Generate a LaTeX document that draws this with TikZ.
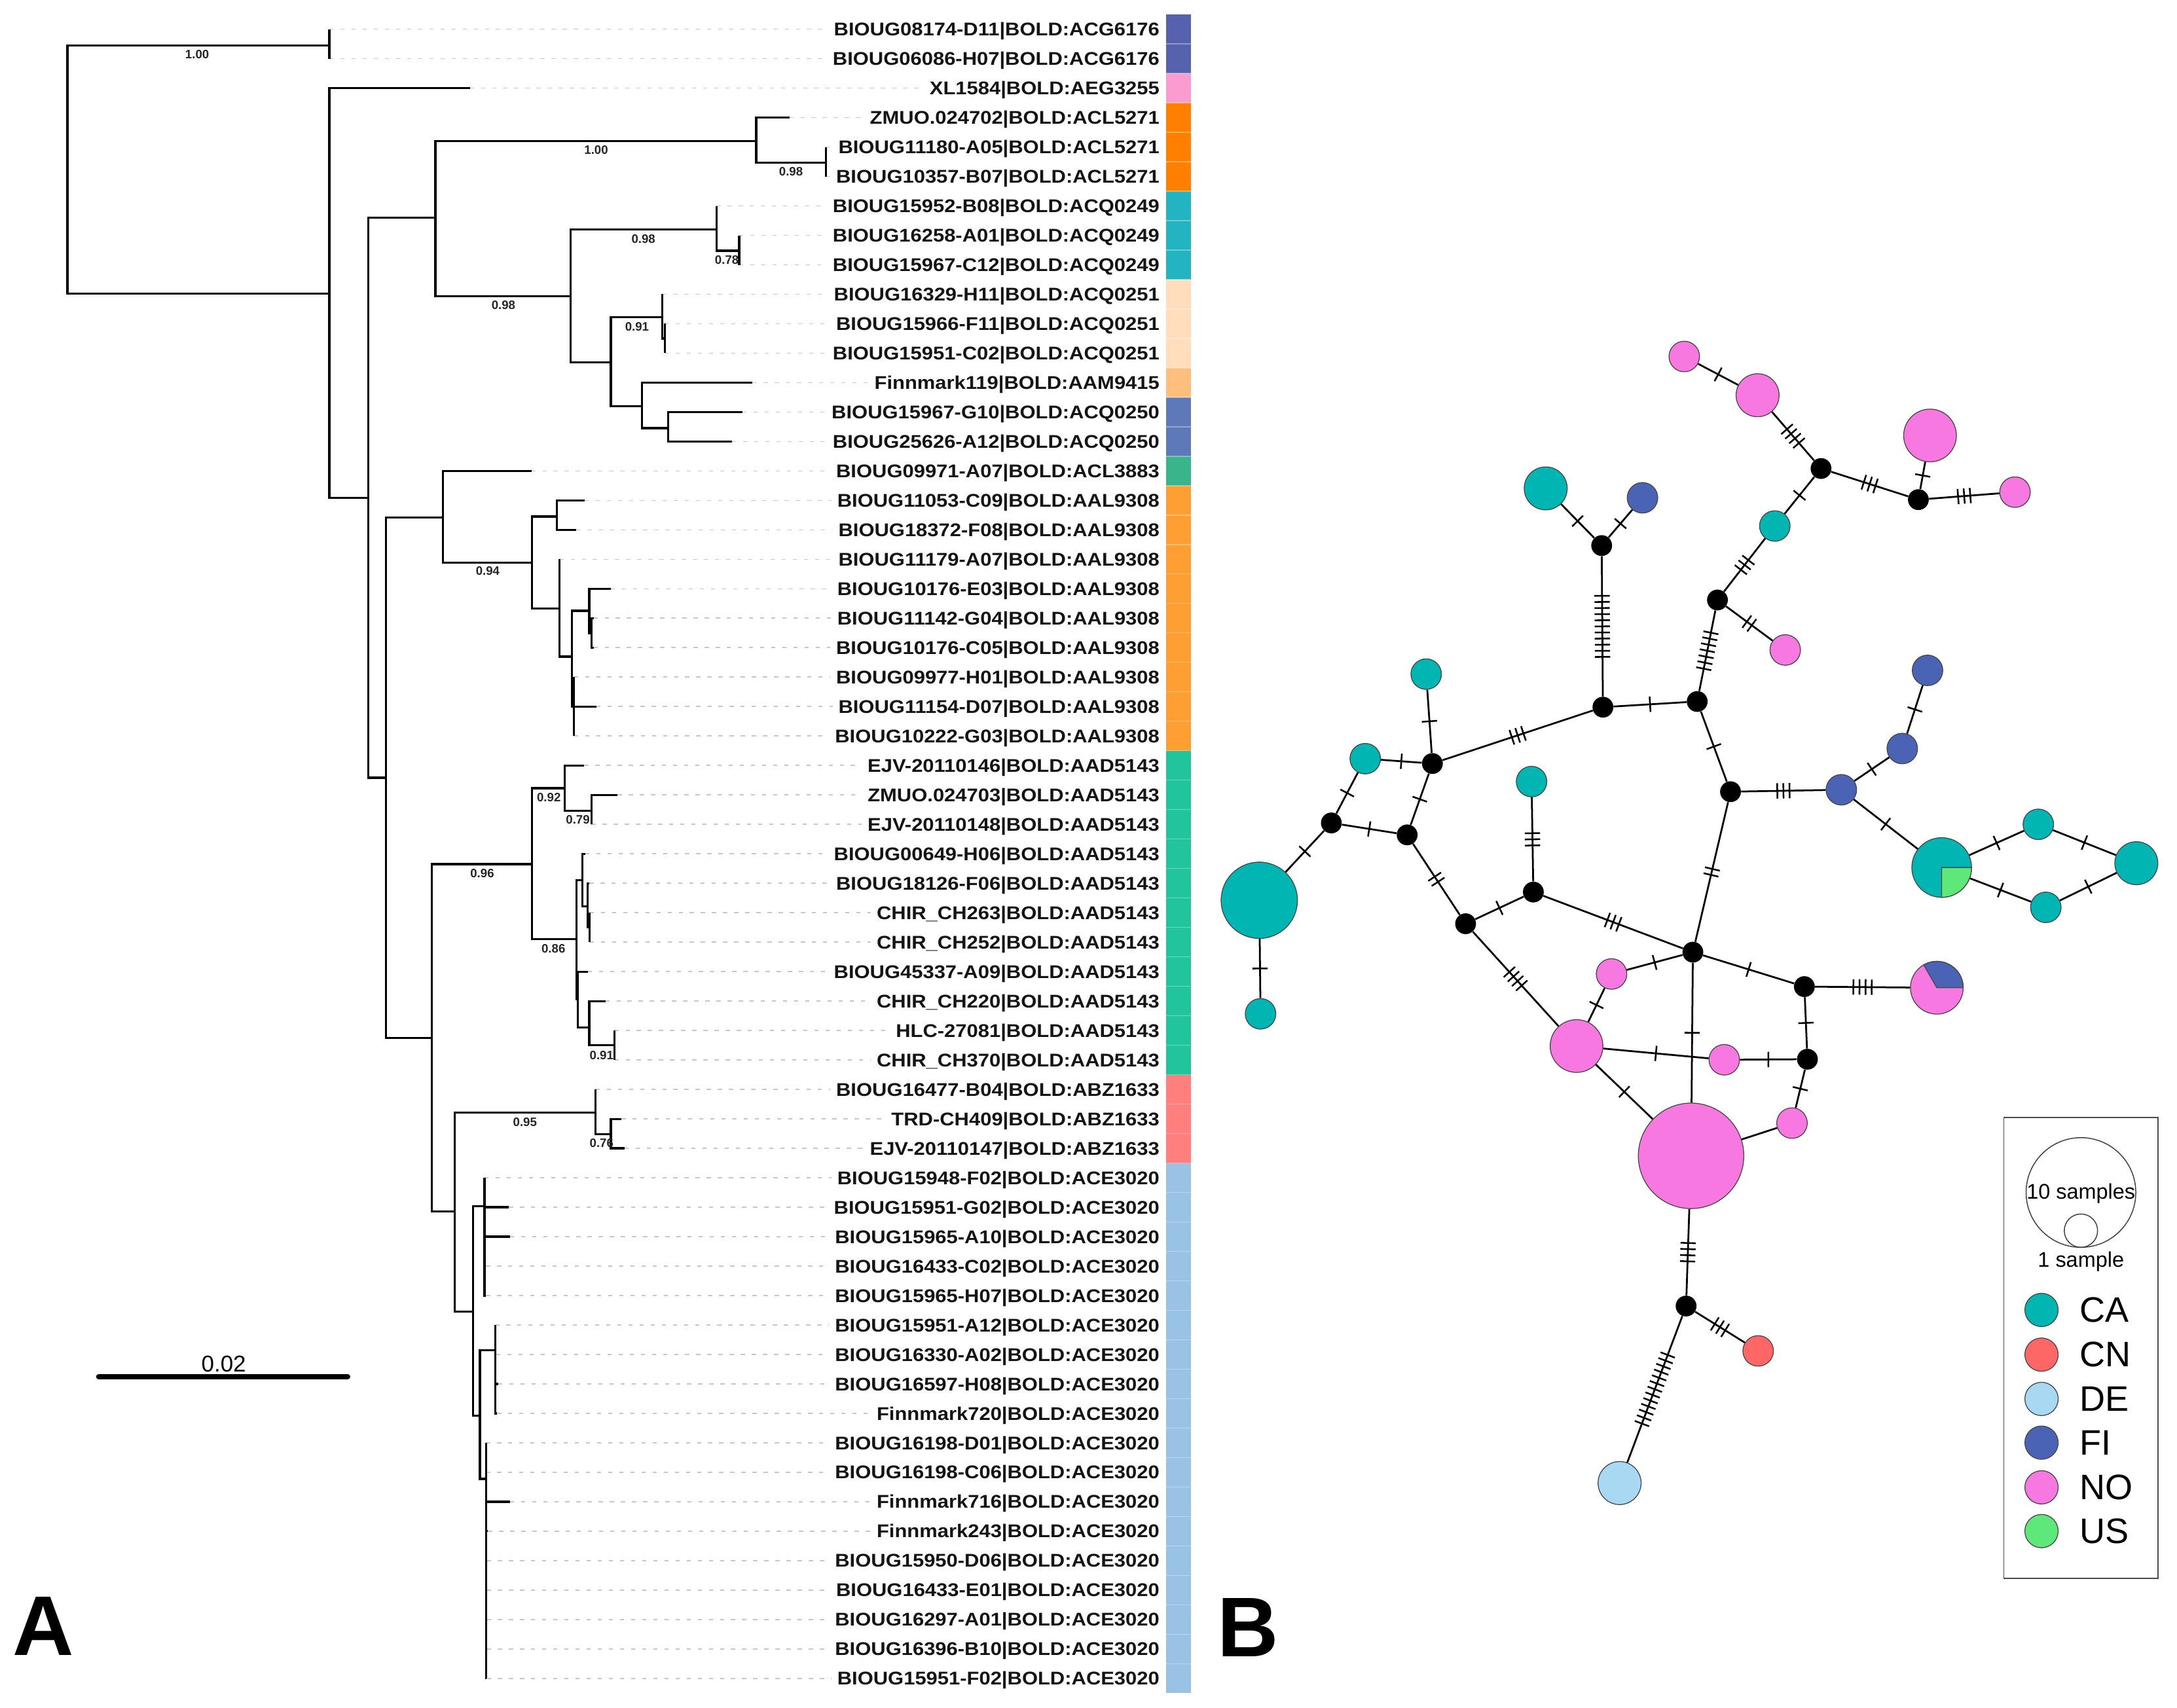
\documentclass[tikz,border=0pt]{standalone}
\usepackage{fontspec}
\setmainfont{Liberation Sans}
\newfontfamily\tipfont{Liberation Sans}[FakeStretch=1.1]
\usetikzlibrary{calc,decorations.markings}
\definecolor{cCA}{RGB}{0,181,178}
\definecolor{cCN}{RGB}{255,102,102}
\definecolor{cDE}{RGB}{168,216,242}
\definecolor{cFI}{RGB}{74,99,181}
\definecolor{cNO}{RGB}{247,120,225}
\definecolor{cUS}{RGB}{94,232,122}
\definecolor{ndraw}{RGB}{70,70,70}
\definecolor{bACG}{RGB}{87,98,174}
\definecolor{bAEG}{RGB}{251,155,207}
\definecolor{bACL}{RGB}{255,128,0}
\definecolor{bQ49}{RGB}{34,180,193}
\definecolor{bQ51}{RGB}{255,221,189}
\definecolor{bAAM}{RGB}{255,190,126}
\definecolor{bQ50}{RGB}{94,121,184}
\definecolor{bL38}{RGB}{56,181,138}
\definecolor{bAAL}{RGB}{255,159,51}
\definecolor{bAAD}{RGB}{34,196,158}
\definecolor{bABZ}{RGB}{255,127,127}
\definecolor{bACE}{RGB}{153,194,228}
\begin{document}
\begin{tikzpicture}[x=1pt,y=-1pt,
  br/.style={line width=1.5pt,line cap=butt,line join=miter},
  leader/.style={line width=0.8pt,draw=black!22,dash pattern=on 3pt off 5pt},
  tiplab/.style={anchor=base east,inner sep=0pt,font=\tipfont\bfseries\fontsize{13.27}{16}\selectfont,text=black!92},
  sup/.style={inner sep=0pt,font=\bfseries\fontsize{8.8}{10}\selectfont,text=black!85},
  hap/.style={circle,draw=ndraw,line width=0.6pt,inner sep=0pt,minimum size=#1pt},
  mv/.style={circle,fill=black,inner sep=0pt,minimum size=15pt},
  nl/.style={line width=1.3pt},
  tk/.style={line width=1.2pt},
  mut/.style={postaction={decorate,decoration={markings,mark=at position 0.5 with {\foreach \k in {1,...,#1}{\draw[tk] ({(\k-(#1+1)/2)*4.4pt},-5.5pt) -- ({(\k-(#1+1)/2)*4.4pt},5.5pt);}}}}},
  lgtext/.style={anchor=west,inner sep=0pt,font=\fontsize{25.5}{28}\selectfont}
]
\useasboundingbox (0,0) rectangle (1568,1230);

% ---------- tree tips, labels, colour bar ----------
\foreach \i/\xe/\nm/\cl in {
1/237.2/BIOUG08174-D11|BOLD:ACG6176/bACG,
2/237.2/BIOUG06086-H07|BOLD:ACG6176/bACG,
3/338.4/XL1584|BOLD:AEG3255/bAEG,
4/568.5/ZMUO.024702|BOLD:ACL5271/bACL,
5/594.7/BIOUG11180-A05|BOLD:ACL5271/bACL,
6/594.7/BIOUG10357-B07|BOLD:ACL5271/bACL,
7/516/BIOUG15952-B08|BOLD:ACQ0249/bQ49,
8/532.4/BIOUG16258-A01|BOLD:ACQ0249/bQ49,
9/532.4/BIOUG15967-C12|BOLD:ACQ0249/bQ49,
10/477/BIOUG16329-H11|BOLD:ACQ0251/bQ51,
11/478.7/BIOUG15966-F11|BOLD:ACQ0251/bQ51,
12/478.7/BIOUG15951-C02|BOLD:ACQ0251/bQ51,
13/542/Finnmark119|BOLD:AAM9415/bAAM,
14/534.8/BIOUG15967-G10|BOLD:ACQ0250/bQ50,
15/527.1/BIOUG25626-A12|BOLD:ACQ0250/bQ50,
16/382.7/BIOUG09971-A07|BOLD:ACL3883/bL38,
17/421.1/BIOUG11053-C09|BOLD:AAL9308/bAAL,
18/415.2/BIOUG18372-F08|BOLD:AAL9308/bAAL,
19/403/BIOUG11179-A07|BOLD:AAL9308/bAAL,
20/440/BIOUG10176-E03|BOLD:AAL9308/bAAL,
21/427.5/BIOUG11142-G04|BOLD:AAL9308/bAAL,
22/427.5/BIOUG10176-C05|BOLD:AAL9308/bAAL,
23/413.5/BIOUG09977-H01|BOLD:AAL9308/bAAL,
24/429.4/BIOUG11154-D07|BOLD:AAL9308/bAAL,
25/413.5/BIOUG10222-G03|BOLD:AAL9308/bAAL,
26/420.8/EJV-20110146|BOLD:AAD5143/bAAD,
27/444.9/ZMUO.024703|BOLD:AAD5143/bAAD,
28/426/EJV-20110148|BOLD:AAD5143/bAAD,
29/421.5/BIOUG00649-H06|BOLD:AAD5143/bAAD,
30/424.5/BIOUG18126-F06|BOLD:AAD5143/bAAD,
31/424.8/CHIR\_CH263|BOLD:AAD5143/bAAD,
32/424.8/CHIR\_CH252|BOLD:AAD5143/bAAD,
33/423.4/BIOUG45337-A09|BOLD:AAD5143/bAAD,
34/436/CHIR\_CH220|BOLD:AAD5143/bAAD,
35/442.6/HLC-27081|BOLD:AAD5143/bAAD,
36/442.6/CHIR\_CH370|BOLD:AAD5143/bAAD,
37/429/BIOUG16477-B04|BOLD:ABZ1633/bABZ,
38/447.6/TRD-CH409|BOLD:ABZ1633/bABZ,
39/449.9/EJV-20110147|BOLD:ABZ1633/bABZ,
40/349/BIOUG15948-F02|BOLD:ACE3020/bACE,
41/366.5/BIOUG15951-G02|BOLD:ACE3020/bACE,
42/367.2/BIOUG15965-A10|BOLD:ACE3020/bACE,
43/350/BIOUG16433-C02|BOLD:ACE3020/bACE,
44/350/BIOUG15965-H07|BOLD:ACE3020/bACE,
45/356.6/BIOUG15951-A12|BOLD:ACE3020/bACE,
46/357.5/BIOUG16330-A02|BOLD:ACE3020/bACE,
47/358.9/BIOUG16597-H08|BOLD:ACE3020/bACE,
48/358/Finnmark720|BOLD:ACE3020/bACE,
49/350/BIOUG16198-D01|BOLD:ACE3020/bACE,
50/350/BIOUG16198-C06|BOLD:ACE3020/bACE,
51/367.2/Finnmark716|BOLD:ACE3020/bACE,
52/351.5/Finnmark243|BOLD:ACE3020/bACE,
53/350.5/BIOUG15950-D06|BOLD:ACE3020/bACE,
54/350.5/BIOUG16433-E01|BOLD:ACE3020/bACE,
55/350.5/BIOUG16297-A01|BOLD:ACE3020/bACE,
56/350.5/BIOUG16396-B10|BOLD:ACE3020/bACE,
57/350.5/BIOUG15951-F02|BOLD:ACE3020/bACE}{
  \pgfmathsetmacro\yy{21.05+(\i-1)*21.214}
  \coordinate (t\i) at (\xe,\yy);
  \node[tiplab] (lab\i) at (835.3,\yy+4.75) {\nm};
  \fill[\cl] (839.9,\yy-10.607) rectangle (858,\yy+10.607);
  \draw[leader] (t\i) -- ($(t\i -| lab\i.west)+(-4,0)$);
}
\foreach \i in {1,...,56}{
  \pgfmathsetmacro\yy{21.05+(\i-0.5)*21.214}
  \draw[white,opacity=0.35,line width=0.6pt] (839.9,\yy) -- (858,\yy);
}

% ---------- internal nodes of the tree ----------
\foreach \nm/\xx/\yy in {R0/48.6/122, N1/237.2/32.6, A/237.2/211.6, B/265.3/358.5,
  C/313.6/156.8, E/544.7/101.7, F/594.7/117.3, G/410.9/213.2, H/516/165.2,
  I/532.4/180.6, J/440/261, K/477/228.4, L/478.7/243.8, M/462.5/292.6,
  N/481.3/308.4, D/277.9/560.2, P/319.2/372.6, Q/383/405.4, R/401/372.1,
  S/403/438.4, T/411.9/473, U/424.4/440, W/426/456, V/413.5/509,
  O/311/747.6, X/383/622.5, Y/406.9/567.8, Z/426/584, AA/415.2/676.6,
  AB/419.5/634, AC/423.4/652.8, AD/424.8/668, AE/416.2/720, AF/424.4/740,
  AG/442.6/752.9, AH/327.5/872.7, AI/429/801.5, AJ/440/817, AK/340.7/944.9,
  AL/349/869, AN/345.7/1019.8, AO/356.6/972.8, AP/350/1065.3}{
  \coordinate (tr\nm) at (\xx,\yy);
}
\foreach \p/\c in {trR0/trN1, trR0/trA, trN1/t1, trN1/t2, trA/t3, trA/trB,
  trB/trC, trB/trD, trC/trE, trC/trG, trE/t4, trE/trF, trF/t5, trF/t6,
  trG/trH, trG/trJ, trH/t7, trH/trI, trI/t8, trI/t9, trJ/trK, trJ/trM,
  trK/t10, trK/trL, trL/t11, trL/t12, trM/t13, trM/trN, trN/t14, trN/t15,
  trD/trP, trD/trO, trP/t16, trP/trQ, trQ/trR, trQ/trS, trR/t17, trR/t18,
  trS/t19, trS/trT, trT/trU, trT/trV, trU/t20, trU/trW, trW/t21, trW/t22,
  trV/t23, trV/t24, trV/t25, trO/trX, trO/trAH, trX/trY, trX/trAA,
  trY/t26, trY/trZ, trZ/t27, trZ/t28, trAA/trAB, trAA/trAE, trAB/t29,
  trAB/trAC, trAC/t30, trAC/trAD, trAD/t31, trAD/t32, trAE/t33, trAE/trAF,
  trAF/t34, trAF/trAG, trAG/t35, trAG/t36, trAH/trAI, trAH/trAK,
  trAI/t37, trAI/trAJ, trAJ/t38, trAJ/t39, trAK/trAL, trAK/trAN,
  trAL/t40, trAL/t41, trAL/t42, trAL/t43, trAL/t44, trAN/trAO, trAN/trAP,
  trAO/t45, trAO/t46, trAO/t47, trAO/t48, trAP/t49, trAP/t50, trAP/t51,
  trAP/t52, trAP/t53, trAP/t54, trAP/t55, trAP/t56, trAP/t57}{
  \draw[br] (\p) |- (\c);
}
% support values
\node[sup] (s1) at (142,39) {1.00};
\node[sup] (s2) at (429.4,108) {1.00};
\node[sup] (s3) at (569.7,123.8) {0.98};
\node[sup] (s4) at (463.4,172) {0.98};
\node[sup] (s5) at (523.5,187.3) {0.78};
\node[sup] (s6) at (362.6,219.6) {0.98};
\node[sup] (s7) at (458.8,235.3) {0.91};
\node[sup] (s8) at (351.3,411.3) {0.94};
\node[sup] (s9) at (395.3,574.5) {0.92};
\node[sup] (s10) at (416.2,590.5) {0.79};
\node[sup] (s11) at (347.3,629.2) {0.96};
\node[sup] (s12) at (398.6,683.4) {0.86};
\node[sup] (s13) at (433.3,760) {0.91};
\node[sup] (s14) at (378.1,808.2) {0.95};
\node[sup] (s15) at (433.3,823.6) {0.76};
% scale bar
\coordinate (sb1) at (71.1,991.6);
\coordinate (sb2) at (250.4,991.6);
\draw[line width=3.8pt,line cap=round] (sb1) -- (sb2);
\node[anchor=base,inner sep=0pt,font=\fontsize{16.5}{18}\selectfont] (sbl) at (161.1,988.2) {0.02};
% panel letters
\node[anchor=base west,inner sep=0pt,font=\bfseries\fontsize{61}{70}\selectfont] (panA) at (9,1192.6) {A};
\node[anchor=base west,inner sep=0pt,font=\bfseries\fontsize{61}{70}\selectfont] (panB) at (876.8,1193.4) {B};

% ---------- haplotype network ----------
\node[hap=22,fill=cNO] (P1) at (1213.1,256.8) {};
\node[hap=31,fill=cNO] (P2) at (1265.9,284.7) {};
\node[mv] (B1) at (1311.6,337.5) {};
\node[hap=38,fill=cNO] (P3) at (1390.1,313.7) {};
\node[mv] (B2) at (1381.7,359.9) {};
\node[hap=22,fill=cNO] (P4) at (1451.3,354.5) {};
\node[hap=22,fill=cCA] (C1) at (1278.3,378.9) {};
\node[mv] (B3) at (1237,432.2) {};
\node[hap=22,fill=cNO] (P5) at (1285.8,468.2) {};
\node[mv] (B4) at (1222.4,505.3) {};
\node[mv] (B5) at (1154.5,509.4) {};
\node[mv] (B6) at (1153.6,393) {};
\node[hap=31,fill=cCA] (C2) at (1113.3,351.8) {};
\node[hap=22,fill=cFI] (F1) at (1183,358.6) {};
\node[hap=22,fill=cCA] (C3) at (1027.2,485.6) {};
\node[mv] (B7) at (1031.7,550) {};
\node[hap=22,fill=cCA] (C4) at (983.3,546.5) {};
\node[mv] (B8) at (958.9,592.8) {};
\node[mv] (B9) at (1013.5,601.4) {};
\node[hap=22,fill=cCA] (C5) at (1103.1,563) {};
\node[mv] (B11) at (1246.4,570.3) {};
\node[hap=22,fill=cFI] (F2) at (1326.2,568.9) {};
\node[hap=22,fill=cFI] (F3) at (1370.1,539.2) {};
\node[hap=22,fill=cFI] (F4) at (1388.3,482.9) {};
\node[hap=43,fill=cCA] (PIE1) at (1398.5,624.9) {};
\fill[cUS,draw=ndraw,line width=0.6pt] (PIE1.center) -- ++(0pt,-21.5pt) arc[start angle=-90,end angle=0,radius=21.5pt] -- cycle;
\node[hap=22,fill=cCA] (C6) at (1468.1,593.8) {};
\node[hap=31,fill=cCA] (C7) at (1538.7,621.8) {};
\node[hap=22,fill=cCA] (C10) at (1473.5,653.6) {};
\node[hap=55,fill=cCA] (C8) at (907,648.5) {};
\node[hap=22,fill=cCA] (C9) at (907.9,730.3) {};
\node[mv] (B10) at (1104.4,642.6) {};
\node[mv] (B12) at (1055.6,665.4) {};
\node[mv] (B13) at (1219.3,685.9) {};
\node[hap=22,fill=cNO] (P6) at (1160.7,701.6) {};
\node[hap=38,fill=cNO] (P7) at (1135.5,753.5) {};
\node[hap=22,fill=cNO] (P8) at (1241.9,763.4) {};
\node[mv] (B14) at (1299.6,710.7) {};
\node[hap=38,fill=cNO] (PIE2) at (1395,711.5) {};
\fill[cFI,draw=ndraw,line width=0.6pt] (PIE2.center) -- ++(19pt,0pt) arc[start angle=0,end angle=120,radius=19pt] -- cycle;
\node[mv] (B15) at (1301.8,763) {};
\node[hap=22,fill=cNO] (P9) at (1290.7,809) {};
\node[hap=76,fill=cNO] (PB) at (1218,832.6) {};
\node[mv] (B16) at (1214.4,940.8) {};
\node[hap=22,fill=cCN] (CN) at (1266.3,973.1) {};
\node[hap=31,fill=cDE] (DE) at (1166.5,1068.3) {};

\foreach \a/\b/\nt in {P1/P2/1, P2/B1/4, B1/B2/3, B2/P3/1, B2/P4/3, B1/C1/1,
  C1/B3/3, B3/P5/2, B3/B4/7, B4/B5/1, B5/B6/11, B6/C2/1, B6/F1/1, C3/B7/1,
  B7/B5/3, C4/B7/1, C4/B8/1, B8/B9/1, B7/B9/1, B8/C8/1, C8/C9/1, C5/B10/3,
  B9/B12/2, B12/B10/1, B10/B13/3, B4/B11/1, B11/F2/3, F2/F3/1, F3/F4/1,
  F2/PIE1/1, PIE1/C6/1, C6/C7/1, PIE1/C10/1, C10/C7/1, B11/B13/2, P6/B13/1,
  P6/P7/1, B12/P7/4, P7/P8/1, B13/B14/1, B14/PIE2/4, B14/B15/1, P8/B15/1,
  B15/P9/1, P9/PB/0, P7/PB/1, B13/PB/1, PB/B16/4, B16/CN/3, B16/DE/13}{
  \ifnum\nt>0
    \draw[nl,mut=\nt] (\a) -- (\b);
  \else
    \draw[nl] (\a) -- (\b);
  \fi
}

% ---------- legend ----------
\node[draw=black!70,line width=0.8pt,minimum width=110.9pt,minimum height=332pt,inner sep=0pt] (lgbox) at (1498.75,971.1) {};
\node[circle,draw=black!75,line width=0.7pt,minimum size=79pt,inner sep=0pt] (lgbig) at (1498.8,859) {};
\node[circle,draw=black!75,line width=0.7pt,minimum size=24pt,inner sep=0pt] (lgsmall) at (1498.8,886.5) {};
\node[inner sep=0pt,font=\fontsize{15.3}{17}\selectfont] (lg10) at (1498.8,859.8) {10 samples};
\node[inner sep=0pt,font=\fontsize{15.3}{17}\selectfont] (lg1) at (1498.8,908.9) {1 sample};
\foreach \nm/\cl/\yy in {CA/cCA/943.6, CN/cCN/975.8, DE/cDE/1007.7, FI/cFI/1039.2, NO/cNO/1071.4, US/cUS/1102.9}{
  \node[hap=24,fill=\cl] (lgc\nm) at (1470.4,\yy) {};
  \node[lgtext] (lgt\nm) at (1497.9,\yy) {\nm};
}
\end{tikzpicture}
\end{document}
